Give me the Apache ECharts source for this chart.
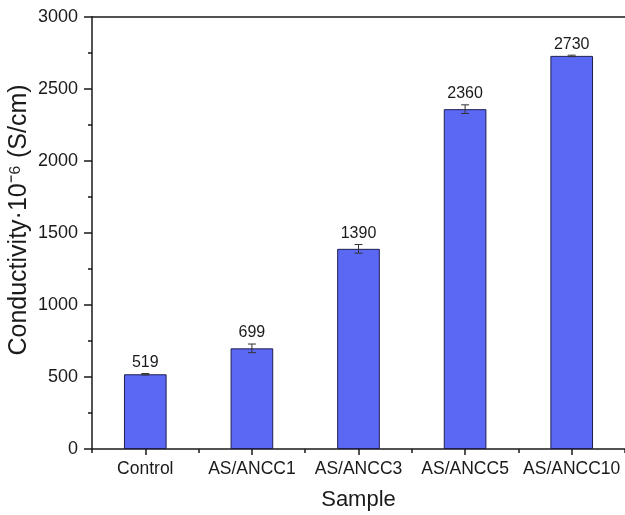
<!DOCTYPE html>
<html>
<head>
<meta charset="utf-8">
<script src="https://cdn.jsdelivr.net/npm/echarts@6/dist/echarts.min.js"></script>
<style>
  html, body { margin: 0; padding: 0; background: #fff; }
  #chart { width: 625px; height: 515px; }
</style>
</head>
<body>
<div id="chart"></div>
<script>
// Samples and their measured conductivity (×10⁻⁶ S/cm)
const samples = ['Control', 'AS/ANCC1', 'AS/ANCC3', 'AS/ANCC5', 'AS/ANCC10'];
const conductivity = [519, 699, 1390, 2360, 2730];
const errors = [5, 30, 30, 30, 5];
const yTicks = { min: 0, max: 3000, interval: 500 };

const FONT = '"Liberation Sans", Arial, sans-serif';

const chart = echarts.init(document.getElementById('chart'), null, { renderer: 'canvas' });

const errorData = conductivity.map((v, i) => [i, v, errors[i]]);

chart.setOption({
  animation: false,
  backgroundColor: '#ffffff',
  grid: { left: 92, right: 0, top: 17, bottom: 66, containLabel: false, outerBoundsMode: 'none' },
  xAxis: [
    {
      type: 'category',
      data: samples,
      position: 'bottom',
      name: 'Sample',
      nameLocation: 'middle',
      nameGap: 40,
      nameMoveOverlap: false,
      nameTextStyle: { fontFamily: FONT, fontSize: 22, color: '#1a1a1a' },
      axisLine: { show: true, lineStyle: { color: '#1a1a1a', width: 1.5 } },
      axisTick: { show: true, alignWithLabel: true, length: 6, lineStyle: { color: '#1a1a1a', width: 1.5 } },
      axisLabel: { fontFamily: FONT, fontSize: 17.5, color: '#1a1a1a', margin: 11, interval: 0, hideOverlap: false },
      splitLine: { show: false }
    },
    {
      // boundary ticks between categories
      type: 'category',
      data: samples,
      position: 'bottom',
      axisLine: { show: false },
      axisTick: { show: true, length: 4, lineStyle: { color: '#1a1a1a', width: 1.5 } },
      axisLabel: { show: false },
      splitLine: { show: false }
    },
    {
      // top frame line
      type: 'category',
      data: samples,
      position: 'top',
      axisLine: { show: true, lineStyle: { color: '#1a1a1a', width: 1.5 } },
      axisTick: { show: false },
      axisLabel: { show: false },
      splitLine: { show: false }
    }
  ],
  yAxis: {
    type: 'value',
    min: yTicks.min,
    max: yTicks.max,
    interval: yTicks.interval,
    name: 'Conductivity·10⁻⁶ (S/cm)',
    nameLocation: 'middle',
    nameGap: 60,
    nameMoveOverlap: false,
    nameTextStyle: { fontFamily: FONT, fontSize: 25, color: '#1a1a1a', padding: [0, 0, 0, 26] },
    axisLine: { show: true, lineStyle: { color: '#1a1a1a', width: 1.5 } },
    axisTick: { show: true, length: 8, lineStyle: { color: '#1a1a1a', width: 1.5 } },
    minorTick: { show: true, splitNumber: 2, length: 4, lineStyle: { color: '#1a1a1a', width: 1.5 } },
    axisLabel: {
      fontFamily: FONT, fontSize: 18, color: '#1a1a1a', margin: 14,
      formatter: function (val) { return String(val); }
    },
    splitLine: { show: false }
  },
  series: [
    {
      type: 'bar',
      xAxisIndex: 0,
      data: conductivity,
      barWidth: '40%',
      itemStyle: { color: '#5a68f4', borderColor: '#1f1f4f', borderWidth: 1 }
    },
    {
      type: 'custom',
      xAxisIndex: 0,
      data: errorData,
      z: 10,
      renderItem: function (params, api) {
        const idx = api.value(0);
        const v = api.value(1);
        const e = api.value(2);
        const hi = api.coord([idx, v + e]);
        const lo = api.coord([idx, v - e]);
        const cap = 4;
        const style = { stroke: '#333333', lineWidth: 1 };
        return {
          type: 'group',
          children: [
            { type: 'line', shape: { x1: hi[0], y1: hi[1], x2: lo[0], y2: lo[1] }, style: style },
            { type: 'line', shape: { x1: hi[0] - cap, y1: hi[1], x2: hi[0] + cap, y2: hi[1] }, style: style },
            { type: 'line', shape: { x1: lo[0] - cap, y1: lo[1], x2: lo[0] + cap, y2: lo[1] }, style: style },
            {
              type: 'text',
              x: hi[0],
              y: hi[1] - 3,
              style: {
                text: String(v),
                fontFamily: FONT,
                fontSize: 16,
                fill: '#1a1a1a',
                textAlign: 'center',
                textVerticalAlign: 'bottom'
              }
            }
          ]
        };
      }
    }
  ]
});
</script>
</body>
</html>
